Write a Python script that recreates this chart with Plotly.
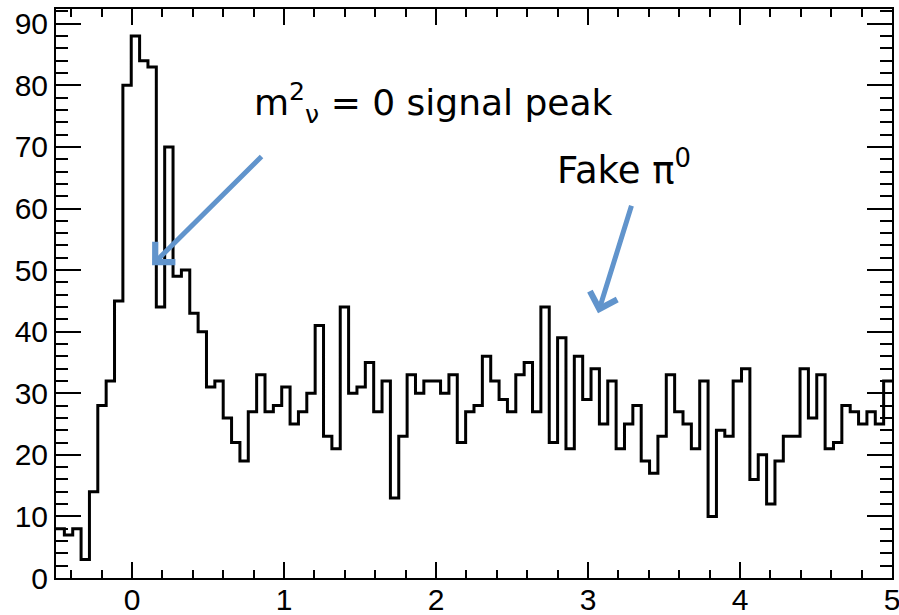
import numpy as np
import plotly.graph_objects as go

# Histogram definition
x_lo = -0.5
x_hi = 5.0
n_bins = 100
counts = [8, 7, 8, 3, 14, 28, 32, 45, 80, 88,
          84, 83, 44, 70, 49, 50, 43, 40, 31, 32,
          26, 22, 19, 27, 33, 27, 28, 31, 25, 27,
          30, 41, 23, 21, 44, 30, 31, 35, 27, 32,
          13, 23, 33, 30, 32, 32, 30, 33, 22, 27,
          28, 36, 32, 29, 27, 33, 35, 27, 44, 22,
          39, 21, 36, 29, 34, 25, 32, 21, 25, 28,
          19, 17, 23, 33, 27, 25, 21, 32, 10, 24,
          23, 32, 34, 16, 20, 12, 19, 23, 23, 34,
          26, 33, 21, 22, 28, 27, 25, 27, 25, 32]
y_max = 92.4
y_tickvals = [0, 10, 20, 30, 40, 50, 60, 70, 80, 90]
x_tickvals = [0, 1, 2, 3, 4, 5]

edges = np.linspace(x_lo, x_hi, n_bins + 1)
xs = list(edges)
ys = list(counts) + [counts[-1]]

fig = go.Figure()
fig.add_trace(go.Scatter(x=xs, y=ys, mode="lines", line=dict(color="black", width=3, shape="hv"),
                         hoverinfo="skip", showlegend=False))

arrow_color = "#6194CC"
# arrow 1: signal peak
fig.add_annotation(x=0.132, y=50.8, ax=0.862, ay=68.7, xref="x", yref="y", axref="x", ayref="y",
                   text="", showarrow=True, arrowhead=4, arrowsize=1.1, arrowwidth=5, arrowcolor=arrow_color)
# arrow 2: fake pi0
fig.add_annotation(x=3.066, y=43.0, ax=3.289, ay=60.7, xref="x", yref="y", axref="x", ayref="y",
                   text="", showarrow=True, arrowhead=4, arrowsize=1.1, arrowwidth=5, arrowcolor=arrow_color)

fig.add_annotation(x=0.789, y=77.1, xref="x", yref="y", xanchor="left", yanchor="middle",
                   text="m<sup>2</sup><sub>ν</sub> = 0 signal peak", showarrow=False,
                   font=dict(family="DejaVu Sans", size=36, color="black"))
fig.add_annotation(x=2.783, y=66.6, xref="x", yref="y", xanchor="left", yanchor="middle",
                   text="Fake π<sup>0</sup>", showarrow=False,
                   font=dict(family="DejaVu Sans", size=37, color="black"))

fig.update_layout(
    width=899, height=615,
    margin=dict(l=56, r=7, t=9, b=37),
    paper_bgcolor="white", plot_bgcolor="white",
    font=dict(family="Liberation Sans", size=30, color="black"),
)
fig.update_xaxes(range=[x_lo, x_hi], tickvals=x_tickvals, ticks="inside", ticklen=16, tickwidth=2,
                 tickcolor="black", showline=True, linecolor="black", linewidth=2, mirror="allticks",
                 showgrid=False, zeroline=False, automargin=False, ticklabeloverflow="allow",
                 ticklabelstandoff=-6,
                 tickfont=dict(family="Liberation Sans", size=30, color="black"),
                 minor=dict(dtick=0.2, ticks="inside", ticklen=8, tickwidth=2, tickcolor="black", showgrid=False))
fig.update_yaxes(range=[0, y_max], tickvals=y_tickvals, ticks="inside", ticklen=25, tickwidth=2,
                 tickcolor="black", showline=True, linecolor="black", linewidth=2, mirror="allticks",
                 showgrid=False, zeroline=False, automargin=False, ticklabeloverflow="allow",
                 tickfont=dict(family="Liberation Sans", size=30, color="black"),
                 minor=dict(dtick=2, ticks="inside", ticklen=12, tickwidth=2, tickcolor="black", showgrid=False))

fig.write_html("out.html")
